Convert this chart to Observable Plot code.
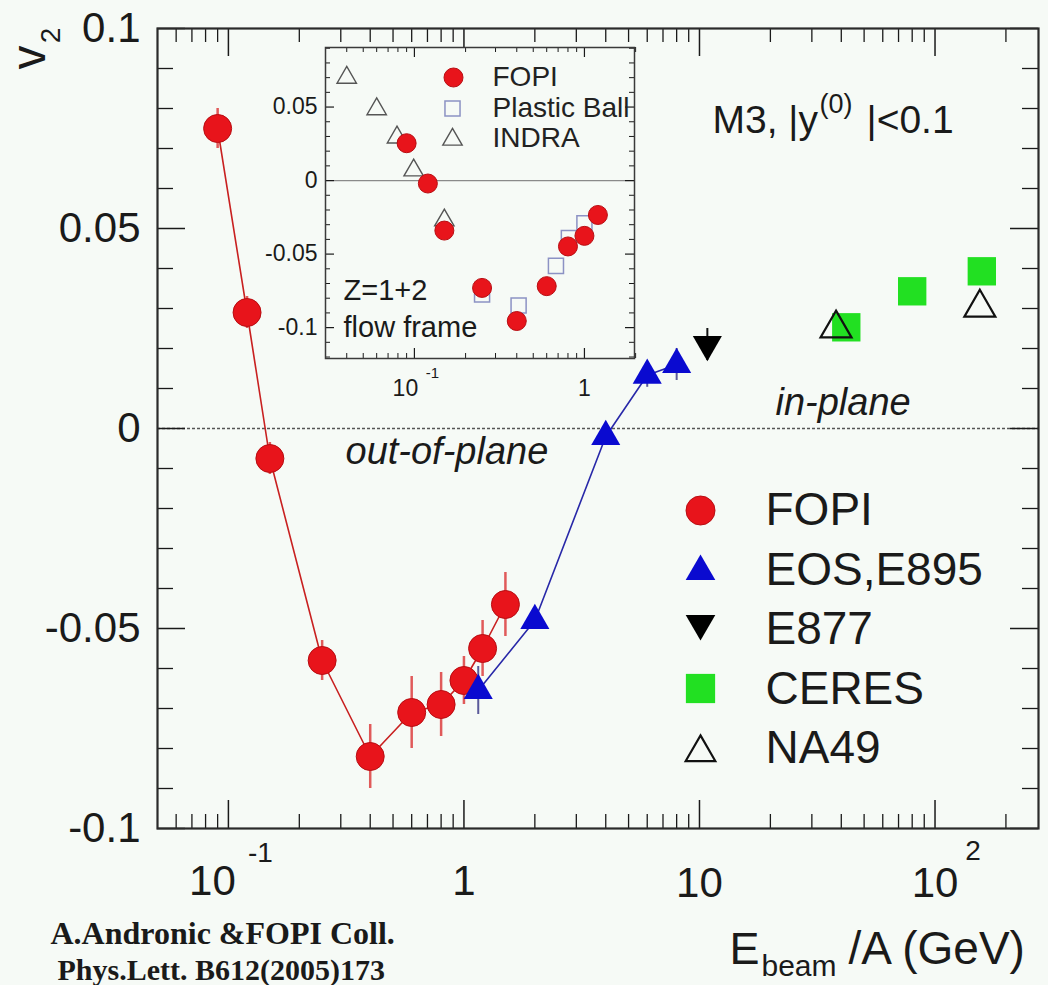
<!DOCTYPE html>
<html>
<head>
<meta charset="utf-8">
<script src="https://cdn.jsdelivr.net/npm/d3@7"></script>
<script src="https://cdn.jsdelivr.net/npm/@observablehq/plot@0.6"></script>
<style>
  html, body { margin: 0; padding: 0; background: #f6faf6; }
  #wrap { position: relative; width: 1048px; height: 985px; overflow: hidden; }
  #inset { position: absolute; left: 250px; top: 40px; }
</style>
</head>
<body>
<div id="wrap"><div id="main"></div><div id="inset"></div></div>
<script>
// ---------------- data (main panel) ----------------
const fopiE   = [0.09, 0.12, 0.15, 0.25, 0.4, 0.6, 0.8, 1.0, 1.2, 1.5];
const fopiV2  = [0.075, 0.029, -0.0075, -0.058, -0.082, -0.071, -0.069, -0.063, -0.055, -0.044];
const fopiErr = [0.005, 0.004, 0.004, 0.005, 0.008, 0.009, 0.008, 0.006, 0.007, 0.008];
const eosE    = [1.15, 2.0, 4.0, 6.0, 8.0];
const eosV2   = [-0.0655, -0.048, -0.002, 0.0133, 0.016];
const eosErr  = [0.006, 0.002, 0.002, 0.003, 0.004];
const e877E   = [10.8];
const e877V2  = [0.021];
const e877Err = [0.004];
const ceresE  = [42, 80, 158];
const ceresV2 = [0.0253, 0.0343, 0.0393];
const na49E   = [38, 155];
const na49V2  = [0.025, 0.0302];
const legendLabels = ["FOPI", "EOS,E895", "E877", "CERES", "NA49"];

// ---------------- data (inset) ----------------
const inFopiE   = [0.09, 0.12, 0.15, 0.25, 0.4, 0.6, 0.8, 1.0, 1.2];
const inFopiV2  = [0.0254, -0.002, -0.034, -0.073, -0.0955, -0.0718, -0.0448, -0.0376, -0.0234];
const inPbE     = [0.25, 0.41, 0.68, 0.81, 1.0];
const inPbV2    = [-0.0775, -0.085, -0.058, -0.039, -0.029];
const inIndraE  = [0.040, 0.060, 0.079, 0.099, 0.150];
const inIndraV2 = [0.070, 0.0486, 0.0294, 0.007, -0.027];
const insetLegendLabels = ["FOPI", "Plastic Ball", "INDRA"];

// ---------------- ticks ----------------
const xMajor = [0.1, 1, 10, 100];
const xMinor = [0.06, 0.07, 0.08, 0.09, 0.2, 0.3, 0.4, 0.5, 0.6, 0.7, 0.8, 0.9,
                2, 3, 4, 5, 6, 7, 8, 9, 20, 30, 40, 50, 60, 70, 80, 90, 200];
const yMajor = [-0.1, -0.05, 0, 0.05, 0.1];
const yMinor = [-0.09, -0.08, -0.07, -0.06, -0.04, -0.03, -0.02, -0.01,
                0.01, 0.02, 0.03, 0.04, 0.06, 0.07, 0.08, 0.09];
const yLabels = [-0.1, -0.05, 0, 0.05, 0.1];

const inXMajor = [0.1, 1];
const inXMinor = [0.04, 0.05, 0.06, 0.07, 0.08, 0.09, 0.2, 0.3, 0.4, 0.5, 0.6, 0.7, 0.8, 0.9, 2];
const inYMajor = [-0.1, -0.05, 0, 0.05];
const inYMinor = [-0.12, -0.11, -0.09, -0.08, -0.07, -0.06, -0.04, -0.03, -0.02, -0.01,
                  0.01, 0.02, 0.03, 0.04, 0.06, 0.07, 0.08, 0.09];

// ---------------- styling ----------------
const BG = "#f6faf6", INK = "#1a1a1a";
const RED = "#e8141b", RED_EDGE = "#b80d12", BLUE = "#0a0ad0", GREEN = "#22e022";
const FONT = "'Liberation Sans', Arial, Helvetica, sans-serif";
const SERIF = "'Liberation Serif', 'Times New Roman', serif";

const triDown = {
  draw(ctx, size) {
    const y = -Math.sqrt(size / (Math.sqrt(3) * 3));
    ctx.moveTo(0, -2 * y);
    ctx.lineTo(-Math.sqrt(3) * y, y);
    ctx.lineTo(Math.sqrt(3) * y, y);
    ctx.closePath();
  }
};

const zip = (xs, ys, es) => xs.map((x, i) => ({x, y: ys[i], e: es ? es[i] : 0}));
const fopi = zip(fopiE, fopiV2, fopiErr);
const eos = zip(eosE, eosV2, eosErr);
const e877 = zip(e877E, e877V2, e877Err);
const ceres = zip(ceresE, ceresV2);
const na49 = zip(na49E, na49V2);

// ---------------- main plot ----------------
const W = 1048, H = 985, mL = 157, mR = 10, mT = 28, mB = 157;
const FW = W - mL - mR, FH = H - mT - mB;

function frameTicks(xs, ys, fw, fh, xLen, yLen, sw) {
  return [
    Plot.ruleX(xs, {x: d => d, insetTop: fh - xLen, stroke: INK, strokeWidth: sw}),
    Plot.ruleX(xs, {x: d => d, insetBottom: fh - xLen, stroke: INK, strokeWidth: sw}),
    Plot.ruleY(ys, {y: d => d, insetRight: fw - yLen, stroke: INK, strokeWidth: sw}),
    Plot.ruleY(ys, {y: d => d, insetLeft: fw - yLen, stroke: INK, strokeWidth: sw})
  ];
}

const legendSymbolDy = [482, 543, 595, 660, 724];
const legendTextDy0 = 482, legendStep = 59.5;

const legendMarks = [
  Plot.dot([0], {frameAnchor: "top-left", dx: 543, dy: legendSymbolDy[0], r: 14.5, fill: RED, stroke: RED_EDGE, strokeWidth: 1}),
  Plot.dot([0], {frameAnchor: "top-left", dx: 543, dy: legendSymbolDy[1], r: 11, symbol: "triangle", fill: BLUE}),
  Plot.dot([0], {frameAnchor: "top-left", dx: 543, dy: legendSymbolDy[2], r: 11, symbol: triDown, fill: "#000"}),
  Plot.dot([0], {frameAnchor: "top-left", dx: 543, dy: legendSymbolDy[3], r: 16.5, symbol: "square", fill: GREEN}),
  Plot.dot([0], {frameAnchor: "top-left", dx: 543, dy: legendSymbolDy[4], r: 11, symbol: "triangle", fill: "none", stroke: "#111", strokeWidth: 2.2}),
  ...legendLabels.map((lab, i) => Plot.text([lab], {
    frameAnchor: "top-left", dx: 608, dy: legendTextDy0 + i * legendStep, text: d => d,
    textAnchor: "start", lineAnchor: "middle", fontSize: 46, fill: INK
  }))
];

const main = Plot.plot({
  width: W, height: H,
  marginLeft: mL, marginRight: mR, marginTop: mT, marginBottom: mB,
  style: {background: BG, fontFamily: FONT, color: INK, overflow: "visible"},
  x: {type: "log", domain: [0.05, 275], axis: null},
  y: {domain: [-0.1, 0.1], axis: null},
  marks: [
    Plot.ruleY([0], {stroke: "#555", strokeWidth: 1.6, strokeDasharray: "3,2"}),
    ...frameTicks(xMajor, yMajor, FW, FH, 28, 28, 1.5),
    ...frameTicks(xMinor, yMinor, FW, FH, 14, 16, 1.3),
    Plot.frame({stroke: "#2a2a2a", strokeWidth: 2.2}),
    // y tick labels
    Plot.text(yLabels, {y: d => d, frameAnchor: "left", dx: -17, text: d => String(d),
      textAnchor: "end", lineAnchor: "middle", fontSize: 42, fill: INK}),
    // x tick labels
    Plot.text([0.1], {x: d => d, frameAnchor: "bottom", dy: 53, dx: -16, text: ["10"], fontSize: 42, lineAnchor: "middle", fill: INK}),
    Plot.text([0.1], {x: d => d, frameAnchor: "bottom", dy: 25, dx: 32, text: ["-1"], fontSize: 28, lineAnchor: "middle", fill: INK}),
    Plot.text([1], {x: d => d, frameAnchor: "bottom", dy: 53, text: ["1"], fontSize: 42, lineAnchor: "middle", fill: INK}),
    Plot.text([10], {x: d => d, frameAnchor: "bottom", dy: 55, text: ["10"], fontSize: 42, lineAnchor: "middle", fill: INK}),
    Plot.text([100], {x: d => d, frameAnchor: "bottom", dy: 55, dx: 0, text: ["10"], fontSize: 42, lineAnchor: "middle", fill: INK}),
    Plot.text([100], {x: d => d, frameAnchor: "bottom", dy: 23, dx: 38, text: ["2"], fontSize: 28, lineAnchor: "middle", fill: INK}),
    // axis titles
    Plot.text(["E"], {frameAnchor: "bottom-right", dx: -309, dy: 121, text: d => d, textAnchor: "start", lineAnchor: "middle", fontSize: 45, fill: INK}),
    Plot.text(["beam"], {frameAnchor: "bottom-right", dx: -277, dy: 138, text: d => d, textAnchor: "start", lineAnchor: "middle", fontSize: 30, fill: INK}),
    Plot.text(["/A (GeV)"], {frameAnchor: "bottom-right", dx: -190, dy: 121, text: d => d, textAnchor: "start", lineAnchor: "middle", fontSize: 46, fill: INK}),
    Plot.text(["v"], {frameAnchor: "top-left", dx: -128, dy: 29, text: d => d, rotate: -90, textAnchor: "middle", lineAnchor: "middle", fontSize: 48, fill: INK}),
    Plot.text(["2"], {frameAnchor: "top-left", dx: -106, dy: 7, text: d => d, rotate: -90, textAnchor: "middle", lineAnchor: "middle", fontSize: 28, fill: INK}),
    // caption
    Plot.text(["A.Andronic &FOPI Coll."], {frameAnchor: "bottom-left", dx: -107, dy: 105, text: d => d, textAnchor: "start", lineAnchor: "middle",
      fontSize: 32, fontWeight: "bold", fontFamily: SERIF, fill: INK}),
    Plot.text(["Phys.Lett. B612(2005)173"], {frameAnchor: "bottom-left", dx: -100, dy: 142, text: d => d, textAnchor: "start", lineAnchor: "middle",
      fontSize: 30, fontWeight: "bold", fontFamily: SERIF, fill: INK}),
    // in-panel annotations
    Plot.text(["M3, |y"], {frameAnchor: "top-left", dx: 555, dy: 92, text: d => d, textAnchor: "start", lineAnchor: "middle", fontSize: 39, fill: INK}),
    Plot.text(["(0)"], {frameAnchor: "top-left", dx: 662, dy: 76, text: d => d, textAnchor: "start", lineAnchor: "middle", fontSize: 27, fill: INK}),
    Plot.text(["|<0.1"], {frameAnchor: "top-left", dx: 709, dy: 92, text: d => d, textAnchor: "start", lineAnchor: "middle", fontSize: 39, fill: INK}),
    Plot.text(["in-plane"], {frameAnchor: "top-left", dx: 618, dy: 374, text: d => d, textAnchor: "start", lineAnchor: "middle", fontSize: 38, fontStyle: "italic", fill: INK}),
    Plot.text(["out-of-plane"], {frameAnchor: "top-left", dx: 188, dy: 423, text: d => d, textAnchor: "start", lineAnchor: "middle", fontSize: 38, fontStyle: "italic", fill: INK}),
    // error bars
    Plot.ruleX(fopi, {x: "x", y1: d => d.y - d.e, y2: d => d.y + d.e, stroke: "#e05a5a", strokeWidth: 2.5}),
    Plot.ruleX(eos, {x: "x", y1: d => d.y - d.e, y2: d => d.y + d.e, stroke: "#5a5a9a", strokeWidth: 2}),
    Plot.ruleX(e877, {x: "x", y1: d => d.y - d.e, y2: d => d.y + d.e, stroke: "#111", strokeWidth: 2}),
    // lines
    Plot.line(fopi, {x: "x", y: "y", stroke: "#c82020", strokeWidth: 1.6}),
    Plot.line(eos, {x: "x", y: "y", stroke: "#2828a8", strokeWidth: 1.6}),
    // points
    Plot.dot(fopi, {x: "x", y: "y", r: 14, fill: RED, stroke: RED_EDGE, strokeWidth: 1}),
    Plot.dot(eos, {x: "x", y: "y", r: 10.8, symbol: "triangle", fill: BLUE}),
    Plot.dot(e877, {x: "x", y: "y", r: 10.8, symbol: triDown, fill: "#000"}),
    Plot.dot(ceres, {x: "x", y: "y", r: 16, symbol: "square", fill: GREEN}),
    Plot.dot(na49, {x: "x", y: "y", r: 11.5, symbol: "triangle", fill: "none", stroke: "#111", strokeWidth: 2.2}),
    ...legendMarks
  ]
});
document.getElementById("main").appendChild(main);

// ---------------- inset plot ----------------
const iW = 390, iH = 360, imL = 75, imR = 6, imT = 7, imB = 42;
const iFW = iW - imL - imR, iFH = iH - imT - imB;
const inFopi = zip(inFopiE, inFopiV2);
const inPb = zip(inPbE, inPbV2);
const inIndra = zip(inIndraE, inIndraV2);

const inset = Plot.plot({
  width: iW, height: iH,
  marginLeft: imL, marginRight: imR, marginTop: imT, marginBottom: imB,
  style: {background: "none", fontFamily: FONT, color: INK, overflow: "visible"},
  x: {type: "log", domain: [0.03, 1.97], axis: null},
  y: {domain: [-0.121, 0.0905], axis: null},
  marks: [
    Plot.frame({fill: BG}),
    Plot.ruleY([0], {stroke: "#8a8a8a", strokeWidth: 1.3}),
    ...frameTicks(inXMajor, inYMajor, iFW, iFH, 10, 9, 1.2),
    ...frameTicks(inXMinor, inYMinor, iFW, iFH, 5, 5, 1),
    Plot.frame({stroke: "#3a3a3a", strokeWidth: 1.5}),
    Plot.text(inYMajor, {y: d => d, frameAnchor: "left", dx: -8, text: d => String(d),
      textAnchor: "end", lineAnchor: "middle", fontSize: 23, fill: INK}),
    Plot.text([0.1], {x: d => d, frameAnchor: "bottom", dy: 30, dx: -9, text: ["10"], fontSize: 23, lineAnchor: "middle", fill: INK}),
    Plot.text([0.1], {x: d => d, frameAnchor: "bottom", dy: 15, dx: 18, text: ["-1"], fontSize: 15, lineAnchor: "middle", fill: INK}),
    Plot.text([1], {x: d => d, frameAnchor: "bottom", dy: 30, text: ["1"], fontSize: 23, lineAnchor: "middle", fill: INK}),
    // annotations
    Plot.text(["Z=1+2"], {frameAnchor: "top-left", dx: 18, dy: 243, text: d => d, textAnchor: "start", lineAnchor: "middle", fontSize: 29, fill: INK}),
    Plot.text(["flow frame"], {frameAnchor: "top-left", dx: 18, dy: 280, text: d => d, textAnchor: "start", lineAnchor: "middle", fontSize: 29, fill: INK}),
    // legend
    Plot.dot([0], {frameAnchor: "top-left", dx: 128, dy: 30, r: 9.5, fill: RED, stroke: RED_EDGE, strokeWidth: 1}),
    Plot.dot([0], {frameAnchor: "top-left", dx: 127, dy: 61, r: 8.5, symbol: "square", fill: "none", stroke: "#8c92c4", strokeWidth: 1.5}),
    Plot.dot([0], {frameAnchor: "top-left", dx: 127, dy: 92, r: 7.2, symbol: "triangle", fill: "none", stroke: "#555", strokeWidth: 1.4}),
    ...insetLegendLabels.map((lab, i) => Plot.text([lab], {
      frameAnchor: "top-left", dx: 167, dy: 30 + i * 30.5, text: d => d, clip: true,
      textAnchor: "start", lineAnchor: "middle", fontSize: 28, fill: "#222"
    })),
    // data
    Plot.dot(inPb, {x: "x", y: "y", r: 8.5, symbol: "square", fill: "none", stroke: "#8c92c4", strokeWidth: 1.5}),
    Plot.dot(inIndra, {x: "x", y: "y", r: 7.2, symbol: "triangle", fill: "none", stroke: "#555", strokeWidth: 1.4}),
    Plot.dot(inFopi, {x: "x", y: "y", r: 9.5, fill: RED, stroke: RED_EDGE, strokeWidth: 1})
  ]
});
document.getElementById("inset").appendChild(inset);
</script>
</body>
</html>
